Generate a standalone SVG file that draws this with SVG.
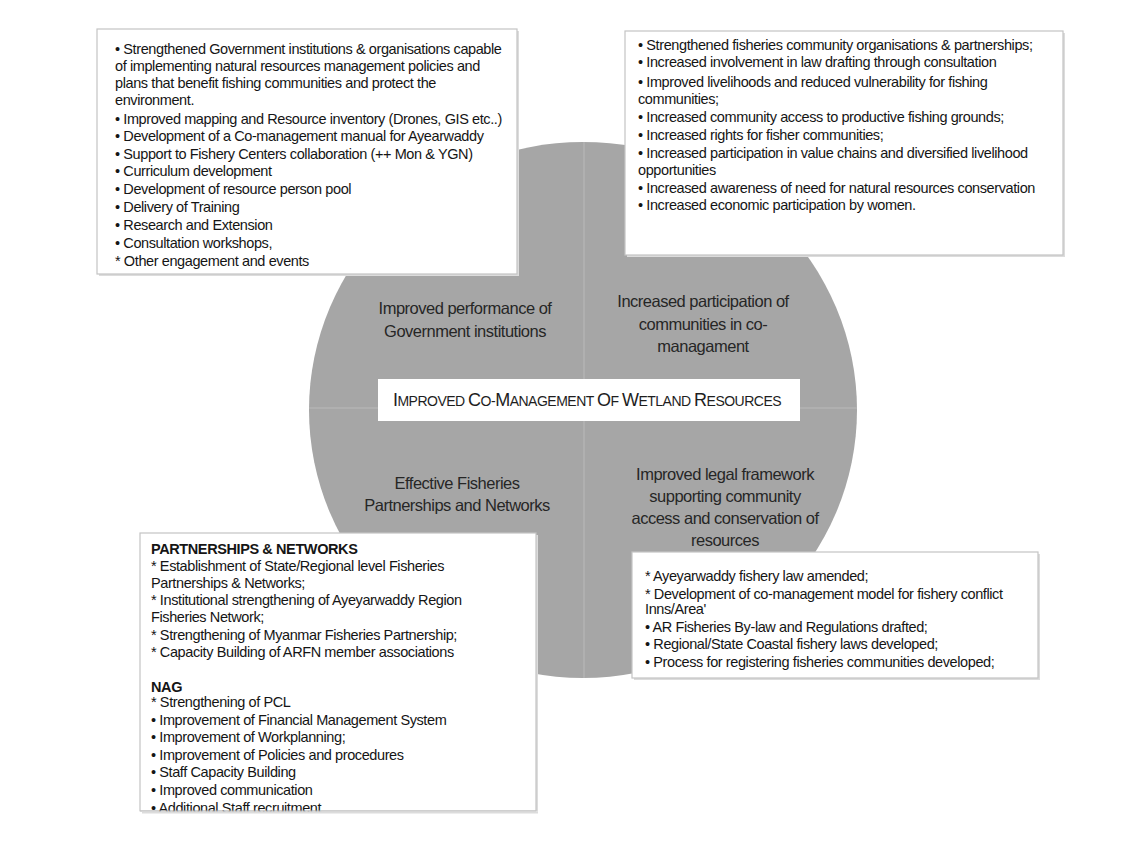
<svg xmlns="http://www.w3.org/2000/svg" width="1137" height="867" viewBox="0 0 1137 867">
<style>
.box{fill:#fff;stroke:#c4c4c4;stroke-width:1.2}
.sh{fill:#dcdcdc}
.t{font-family:"Liberation Sans",Arial,sans-serif;font-size:14.5px;fill:#151515;letter-spacing:-0.4px}
.b{font-weight:bold}
.q{font-family:"Liberation Sans",Arial,sans-serif;font-size:16.5px;fill:#262626;text-anchor:middle;letter-spacing:-0.5px}
.c{font-family:"Liberation Sans",Arial,sans-serif;fill:#1e1e1e;text-anchor:middle;letter-spacing:-0.5px}
</style>
<rect width="1137" height="867" fill="#fff"/>
<g id="circle">
<ellipse cx="583" cy="410" rx="274" ry="268" fill="#a6a6a6"/>
</g>
<g id="connectors">
<line x1="584" y1="142" x2="584" y2="678" stroke="#b3b3b3" stroke-width="1.5"/>
<line x1="309" y1="408" x2="857" y2="408" stroke="#b3b3b3" stroke-width="1.5"/>
</g>
<g id="q-gov">
<text class="q" x="465" y="314">Improved performance of</text>
<text class="q" x="465" y="337">Government institutions</text>
</g>
<g id="q-comm">
<text class="q" x="703" y="307">Increased participation of</text>
<text class="q" x="703" y="330">communities in co-</text>
<text class="q" x="703" y="352">managament</text>
</g>
<g id="q-part">
<text class="q" x="457" y="489">Effective Fisheries</text>
<text class="q" x="457" y="511">Partnerships and Networks</text>
</g>
<g id="q-legal">
<text class="q" x="725" y="480">Improved legal framework</text>
<text class="q" x="725" y="502">supporting community</text>
<text class="q" x="725" y="524">access and conservation of</text>
<text class="q" x="725" y="546">resources</text>
</g>
<g id="center">
<rect x="378" y="379" width="422" height="42" fill="#fff"/>
<text class="c" x="587" y="406"><tspan font-size="18">I</tspan><tspan font-size="14">MPROVED </tspan><tspan font-size="18">C</tspan><tspan font-size="14">O-</tspan><tspan font-size="18">M</tspan><tspan font-size="14">ANAGEMENT </tspan><tspan font-size="18">O</tspan><tspan font-size="14">F </tspan><tspan font-size="18">W</tspan><tspan font-size="14">ETLAND </tspan><tspan font-size="18">R</tspan><tspan font-size="14">ESOURCES</tspan></text>
</g>
<g id="box-gov">
<rect class="sh" x="99" y="31" width="420" height="245"/>
<rect class="box" x="97" y="29" width="420" height="245"/>
<text class="t" x="115" y="54">• Strengthened Government institutions &amp; organisations capable</text>
<text class="t" x="115" y="71">of implementing natural resources management policies and</text>
<text class="t" x="115" y="88">plans that benefit fishing communities and protect the</text>
<text class="t" x="115" y="105">environment.</text>
<text class="t" x="115" y="124">• Improved mapping and Resource inventory (Drones, GIS etc..)</text>
<text class="t" x="115" y="141">• Development of a Co-management manual for Ayearwaddy</text>
<text class="t" x="115" y="159">• Support to Fishery Centers collaboration (++ Mon &amp; YGN)</text>
<text class="t" x="115" y="176">• Curriculum development</text>
<text class="t" x="115" y="194">• Development  of  resource person pool</text>
<text class="t" x="115" y="212">• Delivery of Training</text>
<text class="t" x="115" y="230">• Research and Extension</text>
<text class="t" x="115" y="248">• Consultation workshops,</text>
<text class="t" x="115" y="266">*  Other engagement and events</text>
</g>
<g id="box-comm">
<rect class="sh" x="627" y="33" width="438" height="224"/>
<rect class="box" x="625" y="31" width="438" height="224"/>
<text class="t" x="638" y="50">• Strengthened fisheries community organisations &amp; partnerships;</text>
<text class="t" x="638" y="67">• Increased involvement in law drafting through consultation</text>
<text class="t" x="638" y="87">• Improved livelihoods and reduced vulnerability for fishing</text>
<text class="t" x="638" y="104">communities;</text>
<text class="t" x="638" y="122">• Increased community access to productive fishing grounds;</text>
<text class="t" x="638" y="140">• Increased rights for fisher communities;</text>
<text class="t" x="638" y="158">• Increased participation in value chains and diversified livelihood</text>
<text class="t" x="638" y="175">opportunities</text>
<text class="t" x="638" y="193">•  Increased awareness of need for natural resources conservation</text>
<text class="t" x="638" y="210">• Increased economic participation by women.</text>
</g>
<g id="box-part">
<rect class="sh" x="142" y="535" width="396" height="278"/>
<rect class="box" x="140" y="533" width="396" height="278"/>
<text class="t b" x="151" y="554">PARTNERSHIPS &amp; NETWORKS</text>
<text class="t" x="151" y="571">*  Establishment of State/Regional level Fisheries</text>
<text class="t" x="151" y="588">Partnerships &amp; Networks;</text>
<text class="t" x="151" y="605">*  Institutional strengthening of Ayeyarwaddy Region</text>
<text class="t" x="151" y="622">Fisheries Network;</text>
<text class="t" x="151" y="640">*  Strengthening of Myanmar Fisheries Partnership;</text>
<text class="t" x="151" y="657">*  Capacity Building of ARFN member associations</text>
<text class="t b" x="151" y="692">NAG</text>
<text class="t" x="151" y="707">*  Strengthening of PCL</text>
<text class="t" x="151" y="725">•  Improvement of Financial Management System</text>
<text class="t" x="151" y="742">• Improvement of Workplanning;</text>
<text class="t" x="151" y="760">•  Improvement of Policies and procedures</text>
<text class="t" x="151" y="777">• Staff Capacity Building</text>
<text class="t" x="151" y="795">• Improved communication</text>
<text class="t" x="151" y="813">•  Additional Staff recruitment</text>
<rect x="139" y="811.6" width="400" height="10" fill="#fff"/>
<line x1="140" y1="811" x2="536" y2="811" stroke="#c4c4c4" stroke-width="1.2"/>
<line x1="142" y1="812.5" x2="538" y2="812.5" stroke="#dcdcdc" stroke-width="2"/>
</g>
<g id="box-legal">
<rect class="sh" x="634" y="554" width="406" height="126"/>
<rect class="box" x="632" y="552" width="406" height="126"/>
<text class="t" x="645" y="581">* Ayeyarwaddy fishery law amended;</text>
<text class="t" x="645" y="599">*  Development of co-management model for fishery conflict</text>
<text class="t" x="645" y="614">Inns/Area'</text>
<text class="t" x="645" y="632">• AR Fisheries By-law and Regulations drafted;</text>
<text class="t" x="645" y="649">• Regional/State Coastal fishery laws developed;</text>
<text class="t" x="645" y="667">• Process for registering fisheries communities developed;</text>
</g>
</svg>
